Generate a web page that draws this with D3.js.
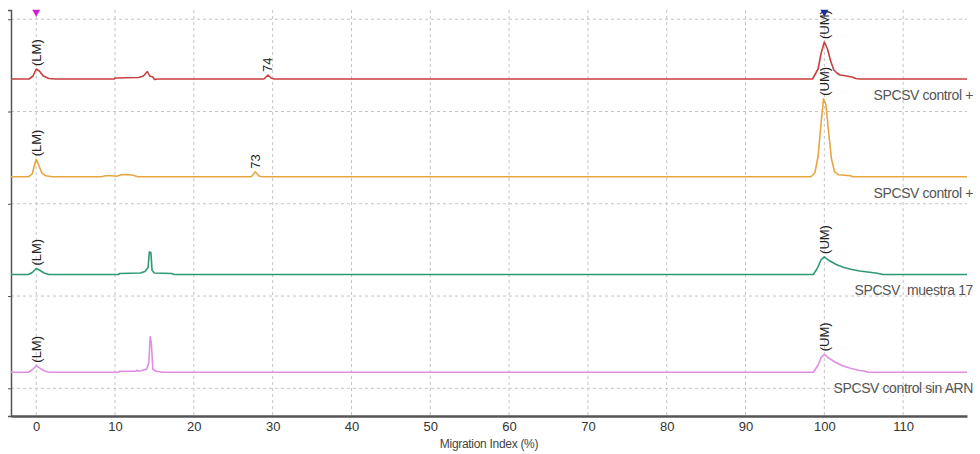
<!DOCTYPE html>
<html>
<head>
<meta charset="utf-8">
<script src="https://cdn.jsdelivr.net/npm/d3@7"></script>
<style>
  body { margin: 0; background: #fff; }
  text { font-family: "Liberation Sans", Arial, sans-serif; }
</style>
</head>
<body>
<div id="chart"></div>
<script>
var svgWidth = 980;
var svgHeight = 454;

// traces: [migration index %, signal]
var redTrace = [
  [-3.2, 0], [-0.9, 0], [-0.4, 3], [0, 10], [0.4, 8], [0.9, 3], [1.6, 0.5], [2.5, 0],
  [9.9, 0], [10.0, 1], [13.0, 1.5], [13.6, 3], [14.1, 7.5], [14.4, 3], [14.8, 2], [15.0, -0.5], [15.4, 0],
  [28.9, 0], [29.4, 4], [29.8, 1], [30.2, 0],
  [98.5, 0], [99.2, 10], [99.6, 26], [100, 37], [100.4, 30], [100.8, 18], [101.2, 9],
  [101.6, 6], [102, 4], [102.8, 3], [103.5, 2], [104, 0.5], [104.5, 0], [118.1, 0]
];
var orangeTrace = [
  [-3.2, 0], [-1, 0], [-0.5, 3], [-0.2, 12], [0, 17.5], [0.3, 12], [0.7, 4], [1.2, 1], [2, 0],
  [8.3, 0], [8.8, 1], [9.6, 1], [10.2, 0.5], [10.8, 2], [11.6, 2.3], [12.3, 1.5], [12.9, 0],
  [27.3, 0], [27.8, 5], [28.3, 0.5], [28.7, 0],
  [98.3, 0], [98.8, 4], [99.2, 20], [99.6, 55], [99.9, 78], [100.2, 72], [100.5, 48],
  [100.9, 18], [101.3, 5], [101.8, 2], [103.3, 1], [103.6, 0], [118.1, 0]
];
var greenTrace = [
  [-3.2, 0], [-1, 0], [-0.5, 2], [0, 6], [0.5, 4], [1, 1.5], [1.6, 0],
  [10.4, 0], [10.6, 1], [13.2, 1.5], [13.8, 3], [14.2, 7], [14.35, 22.6], [14.55, 22], [14.7, 4],
  [15, 1.5], [17.2, 1], [17.5, 0],
  [98.6, 0], [99.1, 6], [99.6, 15], [100, 17.6], [100.6, 14], [101.5, 10], [102.5, 7],
  [103.5, 5], [104.5, 3.5], [105.5, 2.5], [106.5, 1.5], [107.2, 0.5], [107.4, 0], [118.1, 0]
];
var pinkTrace = [
  [-3.2, 0], [-1, 0], [-0.5, 2.5], [0, 6.6], [0.5, 4], [1, 1.5], [1.6, 0],
  [10.4, 0], [10.6, 1], [12.6, 1], [12.8, 2], [13.0, 1], [14.0, 3], [14.3, 10], [14.45, 35.6],
  [14.6, 30], [14.8, 3], [15.2, 1], [15.7, 0.5], [15.9, 0],
  [98.6, 0], [99.2, 7], [99.6, 15], [100, 18], [100.6, 14], [101.4, 10], [102.3, 6.5],
  [103.3, 4], [104.3, 2], [105.2, 1], [105.5, 0], [118.1, 0]
];

var traces = [redTrace, orangeTrace, greenTrace, pinkTrace];
var sampleNames = ["SPCSV control +", "SPCSV control +", "SPCSV  muestra 17", "SPCSV control sin ARN"];
var traceColors = ["#c8403f", "#e8a640", "#2f9a72", "#e08ee0"];

// peak annotations: [trace index, migration index, label]
var peakLabels = [
  [0, 0, "(LM)"], [0, 29.4, "74"], [0, 100, "(UM)"],
  [1, 0, "(LM)"], [1, 27.8, "73"], [1, 100, "(UM)"],
  [2, 0, "(LM)"], [2, 100, "(UM)"],
  [3, 0, "(LM)"], [3, 100, "(UM)"]
];

// marker positions (lower and upper marker)
var markers = [0, 100];
var markerColors = ["#d020d0", "#1c2e9c"];

var xTickValues = [0, 10, 20, 30, 40, 50, 60, 70, 80, 90, 100, 110];
var yGridValues = [0, 1, 2, 3, 4];

var margin = { top: 10, right: 13, bottom: 38, left: 11 };
var width = svgWidth - margin.left - margin.right;
var height = svgHeight - margin.top - margin.bottom;

var svg = d3.select("#chart")
  .append("svg")
  .attr("width", svgWidth)
  .attr("height", svgHeight);

var chartGroup = svg.append("g")
  .attr("transform", `translate(${margin.left}, ${margin.top})`);

// scales
var xScale = d3.scaleLinear()
  .domain([-3.2, 118.1])
  .range([0, width]);

var gridScale = d3.scaleLinear()
  .domain([-0.3, 4.1])
  .range([height, 0]);

var trackScale = d3.scaleLinear()
  .domain([0, 3])
  .range([69, 362.3]);

var signalScale = d3.scaleLinear()
  .domain([0, 100])
  .range([0, 100]);

// vertical grid
chartGroup.append("g")
  .selectAll("line")
  .data(xTickValues)
  .enter()
  .append("line")
  .attr("x1", d => xScale(d))
  .attr("x2", d => xScale(d))
  .attr("y1", 0)
  .attr("y2", height)
  .attr("stroke", "#c4c4c4")
  .attr("stroke-dasharray", "3,3");

// horizontal grid
chartGroup.append("g")
  .selectAll("line")
  .data(yGridValues)
  .enter()
  .append("line")
  .attr("x1", 0)
  .attr("x2", width)
  .attr("y1", d => gridScale(d))
  .attr("y2", d => gridScale(d))
  .attr("stroke", "#c4c4c4")
  .attr("stroke-dasharray", "3,3");

// left axis
var leftAxis = d3.axisLeft(gridScale).tickValues(yGridValues).tickSize(3).tickFormat("");
var leftG = chartGroup.append("g").call(leftAxis);
leftG.select(".domain").attr("stroke", "#555").attr("stroke-width", 1.5);
leftG.selectAll(".tick line").attr("stroke", "#555");

// bottom axis
var bottomAxis = d3.axisBottom(xScale).tickValues(xTickValues).tickSize(0).tickPadding(6);
var bottomG = chartGroup.append("g")
  .attr("transform", `translate(0, ${height})`)
  .call(bottomAxis);
bottomG.select(".domain").attr("stroke", "#555").attr("stroke-width", 2.5);
bottomG.selectAll(".tick text")
  .attr("fill", "#333")
  .style("font-size", "13px")
  .style("font-family", "\"Liberation Sans\", Arial, sans-serif");

// traces
chartGroup.append("g")
  .selectAll("path")
  .data(traces)
  .enter()
  .append("path")
  .attr("d", function(d, i) {
    return d3.line()
      .x(p => xScale(p[0]))
      .y(p => trackScale(i) - signalScale(p[1]))(d);
  })
  .attr("fill", "none")
  .attr("stroke", (d, i) => traceColors[i])
  .attr("stroke-width", 1.6)
  .attr("stroke-linejoin", "round");

// peak labels
function peakTop(trace, x) {
  var near = trace.filter(p => Math.abs(p[0] - x) <= 0.6);
  return d3.max(near, p => p[1]);
}

chartGroup.append("g")
  .selectAll("text")
  .data(peakLabels)
  .enter()
  .append("text")
  .attr("transform", function(d) {
    var px = xScale(d[1]);
    var py = trackScale(d[0]) - signalScale(peakTop(traces[d[0]], d[1])) - 3;
    return `translate(${px}, ${py}) rotate(-90)`;
  })
  .attr("dy", "0.35em")
  .attr("text-anchor", "start")
  .attr("fill", "#222")
  .style("font-size", "13px")
  .text(d => d[2]);

// sample names
chartGroup.append("g")
  .selectAll("text")
  .data(sampleNames)
  .enter()
  .append("text")
  .attr("x", width + 6)
  .attr("y", (d, i) => trackScale(i) + 16)
  .attr("dy", "0.35em")
  .attr("text-anchor", "end")
  .attr("fill", "#555")
  .style("font-size", "14px")
  .style("letter-spacing", "-0.4px")
  .style("white-space", "pre")
  .text(d => d);

// marker triangles
chartGroup.append("g")
  .selectAll("path")
  .data(markers)
  .enter()
  .append("path")
  .attr("d", d3.symbol().type(d3.symbolTriangle).size(28))
  .attr("transform", d => `translate(${xScale(d)}, 2) rotate(180)`)
  .attr("fill", (d, i) => markerColors[i]);

// x axis label
chartGroup.append("text")
  .attr("x", width / 2)
  .attr("y", height + 32)
  .attr("text-anchor", "middle")
  .attr("fill", "#444")
  .style("font-size", "12px")
  .style("letter-spacing", "-0.3px")
  .text("Migration Index (%)");
</script>
</body>
</html>
